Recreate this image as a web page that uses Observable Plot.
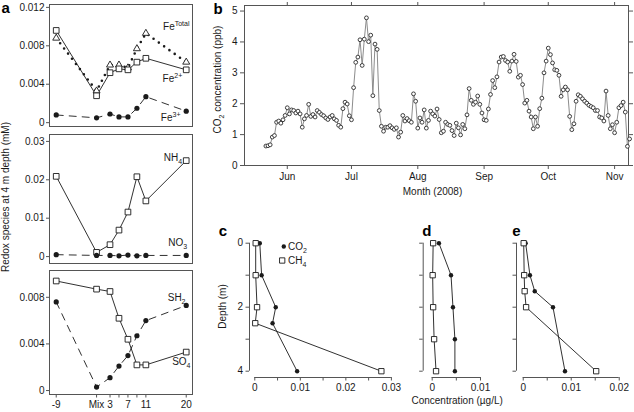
<!DOCTYPE html>
<html><head><meta charset="utf-8">
<script src="https://cdn.jsdelivr.net/npm/d3@7"></script>
<script src="https://cdn.jsdelivr.net/npm/@observablehq/plot@0.6"></script>
<style>
html,body{margin:0;padding:0;background:#fff;}
#chart{position:relative;width:634px;height:412px;overflow:hidden;background:#fff;}
#chart > svg{position:absolute;}
</style></head><body><div id="chart"></div>
<script>
// ---------- Panel a: redox species at 4 m depth ----------
const mixDays = [-9, 0, 3, 5, 7, 9, 11, 20];
const dayTicks = [-9, 0, 3, 5, 7, 9, 11, 20];
const dayTickLabels = ["-9", "Mix", "3", "", "7", "", "11", "20"];
const feTotal = [0.0088, 0.0033, 0.0060, 0.0060, 0.0057, 0.0077, 0.0093, 0.0063];
const fe2 = [0.0096, 0.0028, 0.0052, 0.0056, 0.0055, 0.0063, 0.0067, 0.0055];
const fe3 = [0.0008, 0.0005, 0.0009, 0.0006, 0.0006, 0.0015, 0.0027, 0.0012];
const nh4 = [0.0209, 0.0011, 0.0031, 0.0069, 0.0116, 0.0208, 0.0145, 0.0250];
const no3 = [0.0005, 0.0003, 0.0003, 0.0002, 0.0004, 0.0002, 0.0003, 0.0003];
const so4 = [0.0094, 0.0087, 0.0085, 0.0062, 0.0044, 0.0022, 0.0022, 0.0033];
const sh2 = [0.0076, 0.0003, 0.0011, 0.0021, 0.0030, 0.0047, 0.0060, 0.0073];
const feTicks = [0, 0.004, 0.008, 0.012];
const nTicks = [0, 0.01, 0.02, 0.03];
const sTicks = [0, 0.004, 0.008];

// ---------- Panel b: daily CO2, from 22 May 2008 ----------
const co2Start = "2008-05-22";
const co2Daily = [
  0.63, 0.64, 0.67, 0.92, 0.97, 1.40, 1.44, 1.37, 1.48, 1.62,
  1.87, 1.67, 1.80, 1.78, 1.70, 1.76, 1.67, 1.24, 1.51, 1.62, 1.98, 1.59, 1.65, 1.57, 1.78,
  1.72, 1.65, 1.61, 1.54, 1.49, 1.57, 1.62, 1.51, 1.46, 1.30, 1.24, 1.84, 2.05, 1.99, 1.61,
  1.48, 2.52, 3.34, 3.51, 4.07, 3.24, 4.09, 4.78, 4.01, 4.22, 2.26, 3.93, 3.76, 1.78, 1.27,
  1.11, 1.24, 1.24, 1.29, 1.22, 1.17, 1.22, 0.92, 1.08, 1.62, 1.44, 1.52, 1.45, 1.40, 2.32, 2.08,
  1.21, 1.54, 1.40, 1.80, 1.21, 1.46, 1.76, 1.67, 1.60, 1.83, 1.49, 1.06, 1.11, 1.40, 1.33,
  1.30, 1.13, 0.97, 1.37, 1.22, 0.99, 1.33, 1.19, 1.64, 2.49, 2.11, 1.98, 2.05, 2.25, 1.98, 1.70,
  1.48, 1.46, 1.83, 2.30, 2.75, 2.52, 2.87, 3.35, 3.51, 3.53, 3.40, 3.35, 3.05, 3.38, 3.60,
  3.37, 2.86, 2.92, 2.62, 2.02, 2.11, 1.76, 1.57, 1.19, 1.57, 1.27, 1.84, 2.18, 3.00, 3.38,
  3.80, 3.59, 3.32, 3.10, 3.08, 2.92, 2.24, 2.45, 2.54, 2.45, 1.59, 1.16, 1.35, 2.08, 2.29,
  2.24, 2.16, 2.08, 2.02, 1.95, 1.91, 1.87, 1.78, 1.78, 1.57, 1.54, 1.44, 2.41, 1.62, 1.19, 1.32,
  1.06, 1.40, 1.87, 1.94, 2.05, 1.73, 0.62, 0.86
];
const monthTicks = ["2008-06-01", "2008-07-01", "2008-08-01", "2008-09-01", "2008-10-01", "2008-11-01"];
const co2Ticks = [0, 1, 2, 3, 4, 5];
const bDomain = ["2008-05-12", "2008-11-07T12:00Z"];

// ---------- Panels c, d, e: depth profiles ----------
const depthC = [0, 1, 2, 2.5, 4];
const co2C = [0.0011, 0.0015, 0.0046, 0.0039, 0.0093];
const ch4C = [0.0002, 0.0002, 0.0005, 0.0001, 0.0278];
const depthD = [0, 1, 2, 3, 4];
const co2D = [0.0014, 0.0039, 0.0043, 0.0047, 0.0047];
const ch4D = [0.0002, 0.0001, 0.0002, 0.0004, 0.0008];
const depthE = [0, 1, 1.5, 2, 4];
const co2E = [0.0005, 0.0014, 0.0024, 0.0062, 0.0087];
const ch4E = [0.0001, 0.0002, 0.0003, 0.0006, 0.0152];
const depthTicks = [0, 1, 2, 3, 4];
const concTicksC = [0, 0.005, 0.01, 0.015, 0.02, 0.025, 0.03];
const concTicksD = [0, 0.005, 0.01];
const concTicksE = [0, 0.005, 0.01, 0.015, 0.02];

// ---------- helpers ----------
const FONT = "'Liberation Sans', Arial, Helvetica, sans-serif";
const INK = "#1a1a1a";
const AX = "#555";
const SVGNS = "http://www.w3.org/2000/svg";
const style = {fontFamily: FONT, fontSize: "10px", background: "transparent", overflow: "visible", color: INK};
const rows = (xs, vs) => xs.map((x, i) => ({x, v: vs[i]}));
const lastLabel = (xs, vs, label) => [{x: xs.at(-1), v: vs.at(-1), label}];
const numFmt = d => d === 0 ? "0" : String(d);
const centFmt = d => Math.abs(d * 100 - Math.round(d * 100)) < 1e-9 ? numFmt(d) : "";
const chart = document.getElementById("chart");

function richify(root) {
  root.querySelectorAll("text").forEach(t => {
    const s = t.textContent;
    if (!/[_^]\{/.test(s)) return;
    while (t.firstChild) t.removeChild(t.firstChild);
    let cur = 0, last = 0, m;
    const re = /([_^])\{([^}]*)\}/g;
    const push = (str, off, small) => {
      if (!str) return;
      const ts = document.createElementNS(SVGNS, "tspan");
      ts.textContent = str;
      if (off !== cur) { ts.setAttribute("dy", off - cur); cur = off; }
      if (small) ts.setAttribute("font-size", "7px");
      t.appendChild(ts);
    };
    while ((m = re.exec(s))) {
      push(s.slice(last, m.index), 0, false);
      push(m[2], m[1] === "^" ? -4 : 3, true);
      last = re.lastIndex;
    }
    push(s.slice(last), 0, false);
  });
}
function place(svg, left, top) {
  svg.style.left = left + "px";
  svg.style.top = top + "px";
  richify(svg);
  chart.appendChild(svg);
}
const seriesLine = (xs, vs, o = {}) => Plot.line(rows(xs, vs), {x: "x", y: "v", stroke: INK, strokeWidth: 0.9, ...o});
const openSquare = (xs, vs, r = 3.2) => Plot.dot(rows(xs, vs), {x: "x", y: "v", symbol: "square", r, fill: "white", stroke: INK, strokeWidth: 0.9});
const solidDot = (xs, vs, r = 2.6) => Plot.dot(rows(xs, vs), {x: "x", y: "v", r, fill: INK, stroke: "none"});
const label = (xs, vs, text, dx, dy) => Plot.text(lastLabel(xs, vs, text), {x: "x", y: "v", text: "label", textAnchor: "end", lineAnchor: "middle", dx, dy, fill: INK});
const dashed = {strokeDasharray: "7,6"};
const aX = {domain: [-10.5, 21.4]};
const aYAxis = ticks => Plot.axisY({ticks, tickFormat: numFmt, tickSize: 3, tickPadding: 2, label: null, stroke: AX});
const letter = (t, dx, dy) => Plot.text([t], {frameAnchor: "top-left", dx, dy, textAnchor: "start", lineAnchor: "top", fontSize: 15, fontWeight: "bold", fill: "#000"});

// ---------- a1: iron ----------
place(Plot.plot({
  width: 200, height: 130, marginTop: 4, marginBottom: 4, marginLeft: 49, marginRight: 8,
  x: {...aX, axis: null}, y: {domain: [-0.0004, 0.0123]}, style,
  marks: [
    Plot.frame({stroke: AX}),
    aYAxis(feTicks),
    seriesLine(mixDays, feTotal, {strokeWidth: 2.6, strokeDasharray: "0,6.5", strokeLinecap: "round"}),
    seriesLine(mixDays, fe2),
    seriesLine(mixDays, fe3, dashed),
    Plot.dot(rows(mixDays, feTotal), {x: "x", y: "v", symbol: "triangle", r: 2.6, fill: "white", stroke: INK, strokeWidth: 0.9}),
    openSquare(mixDays, fe2),
    solidDot(mixDays, fe3),
    label(mixDays, feTotal, "Fe^{Total}", 3.3, -34.9),
    label(mixDays, fe2, "Fe^{2+}", -4, 9.1),
    label(mixDays, fe3, "Fe^{3+}", -5.7, 6.8),
    letter("a", -48, -2.6)
  ]
}), 0, 0);

// ---------- a2: nitrogen ----------
place(Plot.plot({
  width: 200, height: 137, marginTop: 4, marginBottom: 4, marginLeft: 49, marginRight: 8,
  x: {...aX, axis: null}, y: {domain: [-0.0018, 0.0318]}, style,
  marks: [
    Plot.frame({stroke: AX}),
    aYAxis(nTicks),
    seriesLine(mixDays, nh4),
    seriesLine(mixDays, no3, dashed),
    openSquare(mixDays, nh4),
    solidDot(mixDays, no3),
    label(mixDays, nh4, "NH_{4}", -4, -2.6),
    label(mixDays, no3, "NO_{3}", 1, -12.5),
    Plot.text(["Redox species at 4 m depth (mM)"], {frameAnchor: "left", rotate: -90, dx: -48, dy: -2, lineAnchor: "top", textAnchor: "middle", fill: INK})
  ]
}), 0, 130);

// ---------- a3: sulfur ----------
place(Plot.plot({
  width: 200, height: 146, marginTop: 4, marginBottom: 18, marginLeft: 49, marginRight: 8,
  x: aX, y: {domain: [-0.00034, 0.0103]}, style,
  marks: [
    Plot.frame({stroke: AX}),
    aYAxis(sTicks),
    Plot.axisX({ticks: dayTicks, tickFormat: d => dayTickLabels[dayTicks.indexOf(d)], tickSize: 3.5, tickPadding: 3, label: null, stroke: AX}),
    seriesLine(mixDays, so4),
    seriesLine(mixDays, sh2, dashed),
    openSquare(mixDays, so4),
    solidDot(mixDays, sh2),
    label(mixDays, sh2, "SH_{2}", -0.7, -7.4),
    label(mixDays, so4, "SO_{4}", 4.3, 9.6)
  ]
}), 0, 266);

// ---------- b: CO2 time series ----------
const start = new Date(co2Start + "T00:00Z");
const co2Rows = co2Daily.map((v, i) => ({date: d3.utcDay.offset(start, i), v}));
const mTicks = monthTicks.map(s => new Date(s + "T00:00Z"));
place(Plot.plot({
  width: 434, height: 200, marginTop: 5, marginBottom: 35, marginLeft: 44, marginRight: 6,
  x: {type: "utc", domain: bDomain.map(s => new Date(s.includes("T") ? s : s + "T00:00Z"))},
  y: {domain: [0, 5.18]}, style,
  marks: [
    Plot.frame({stroke: AX}),
    Plot.axisX({anchor: "bottom", ticks: mTicks, tickFormat: d3.utcFormat("%b"), tickSize: 4, tickPadding: 3, label: null, stroke: AX}),
    Plot.axisX({anchor: "top", ticks: mTicks, tickFormat: () => "", tickSize: 4, label: null, stroke: AX}),
    Plot.axisY({anchor: "left", ticks: co2Ticks, tickFormat: numFmt, tickSize: 4, tickPadding: 3, label: null, stroke: AX}),
    Plot.axisY({anchor: "right", ticks: co2Ticks, tickFormat: () => "", tickSize: 4, label: null, stroke: AX}),
    Plot.line(co2Rows, {x: "date", y: "v", stroke: "#8c8c8c", strokeWidth: 1}),
    Plot.dot(co2Rows, {x: "date", y: "v", r: 1.9, fill: "white", stroke: "#2a2a2a", strokeWidth: 0.9}),
    Plot.text(["CO_{2} concentration (ppb)"], {frameAnchor: "left", rotate: -90, dx: -31, dy: -6, lineAnchor: "top", textAnchor: "middle", fill: INK}),
    Plot.text(["Month (2008)"], {frameAnchor: "bottom", dx: -4, dy: 22, lineAnchor: "top", textAnchor: "middle", fill: INK}),
    letter("b", -31, -1.7)
  ]
}), 200, 0);

// ---------- c, d, e: depth profiles ----------
const depthDomain = [-0.084, 4.197];
function profile({depth, co2, ch4, xDomain, concTicks, width, marginLeft, marginRight, yLabels, extra = []}) {
  const pr = (vs) => depth.map((d, i) => ({x: vs[i], v: d}));
  return Plot.plot({
    width, height: 192, marginTop: 20, marginBottom: 35, marginLeft, marginRight,
    x: {domain: xDomain}, y: {domain: depthDomain, reverse: true}, style,
    marks: [
      Plot.ruleY([depthDomain[1]], {x1: concTicks[0], x2: concTicks.at(-1), stroke: AX}),
      Plot.ruleX([xDomain[0]], {y1: depthTicks[0], y2: depthTicks.at(-1), stroke: AX}),
      Plot.axisX({ticks: concTicks, tickFormat: centFmt, tickSize: 3.5, tickPadding: 3, label: null, stroke: AX}),
      Plot.axisY({ticks: depthTicks, tickFormat: yLabels ? (d => d % 2 === 0 ? String(d) : "") : () => "", tickSize: 3.5, tickPadding: 3, label: null, stroke: AX}),
      Plot.line(pr(ch4), {x: "x", y: "v", stroke: INK, strokeWidth: 0.9}),
      Plot.line(pr(co2), {x: "x", y: "v", stroke: INK, strokeWidth: 0.9}),
      Plot.dot(pr(co2), {x: "x", y: "v", r: 2.2, fill: INK, stroke: "none"}),
      Plot.dot(pr(ch4), {x: "x", y: "v", symbol: "square", r: 3.0, fill: "white", stroke: INK, strokeWidth: 0.9}),
      ...extra
    ]
  });
}
place(profile({
  depth: depthC, co2: co2C, ch4: ch4C, xDomain: [-0.00116, 0.0320], concTicks: concTicksC,
  width: 210, marginLeft: 49, marginRight: 10, yLabels: true,
  extra: [
    Plot.text(["Depth (m)"], {frameAnchor: "left", rotate: -90, dx: -31, dy: -2.5, lineAnchor: "top", textAnchor: "middle", fill: INK}),
    Plot.dot([0], {frameAnchor: "top-left", dx: 34.3, dy: 6, r: 2.2, fill: INK, stroke: "none"}),
    Plot.dot([0], {frameAnchor: "top-left", dx: 32.7, dy: 20, symbol: "square", r: 3.0, fill: "white", stroke: INK, strokeWidth: 0.9}),
    Plot.text(["CO_{2}"], {frameAnchor: "top-left", dx: 38.5, dy: 6, textAnchor: "start", lineAnchor: "middle", fill: INK}),
    Plot.text(["CH_{4}"], {frameAnchor: "top-left", dx: 38.5, dy: 20, textAnchor: "start", lineAnchor: "middle", fill: INK}),
    letter("c", -30.7, -15.6)
  ]
}), 200, 220);
place(profile({
  depth: depthD, co2: co2D, ch4: ch4D, xDomain: [-0.00186, 0.01207], concTicks: concTicksD,
  width: 95, marginLeft: 17.7, marginRight: 10, yLabels: false,
  extra: [
    Plot.text(["Concentration (µg/L)"], {frameAnchor: "bottom", dx: 0.3, dy: 19, lineAnchor: "top", textAnchor: "middle", fill: INK}),
    letter("d", -1, -15.6)
  ]
}), 405, 220);
place(profile({
  depth: depthE, co2: co2E, ch4: ch4E, xDomain: [-0.0014, 0.02235], concTicks: concTicksE,
  width: 134, marginLeft: 16, marginRight: 4, yLabels: false,
  extra: [letter("e", -4.3, -15.6)]
}), 500, 220);
</script></body></html>
